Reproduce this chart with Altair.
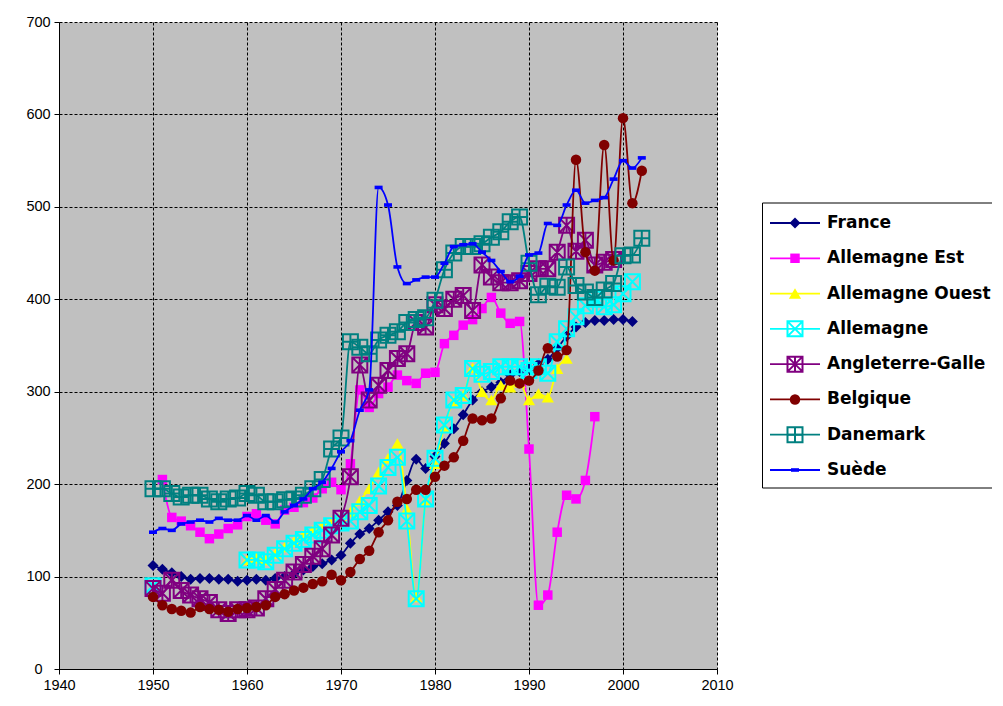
import altair as alt
import pandas as pd

# ---------------- data ----------------
series_names = ["France", "Allemagne Est", "Allemagne Ouest", "Allemagne",
                "Angleterre-Galles", "Belgique", "Danemark", "Suède"]
colors = ["#000080", "#FF00FF", "#FFFF00", "#00FFFF",
          "#800080", "#800000", "#008080", "#0000FF"]

france_years = list(range(1950, 2002))
france = [112, 108, 104, 100, 97, 98, 98, 97, 97, 95, 96, 97, 96, 98, 100,
          103, 107, 111, 114, 118, 123, 136, 146, 152, 161, 170, 177, 204, 227, 217,
          230, 244, 260, 275, 291, 300, 305, 310, 318, 322, 325, 330, 335, 347, 360,
          370, 375, 377, 377, 378, 378, 376]

est_years = list(range(1951, 1998))
est = [205, 164, 160, 155, 148, 141, 146, 152, 156, 165, 168, 161, 157, 172, 175,
       180, 185, 195, 202, 194, 222, 302, 283, 298, 305, 318, 312, 309, 320, 321,
       352, 361, 372, 378, 390, 402, 385, 374, 376, 238, 69, 80, 148, 188, 184,
       204, 273]

ouest_years = list(range(1960, 1995))
ouest = [118, 120, 118, 125, 132, 138, 145, 150, 155, 160, 165, 170, 182, 195, 213,
         228, 244, 173, 78, 183, 222, 262, 290, 296, 326, 300, 291, 307, 305, 310,
         291, 298, 294, 325, 336]

allemagne_years = [1950] + list(range(1960, 2002))
allemagne = [90,
             118, 118, 116, 123, 130, 136, 140, 145, 150, 155, 158, 160, 170, 177, 198,
             218, 229, 160, 76, 184, 228, 264, 291, 296, 325, 319, 322, 327, 327, 327,
             323, 327, 320, 354, 368, 381, 393, 400, 392, 394, 406, 419]

angl_years = list(range(1950, 2000))
angl = [87, 82, 96, 85, 80, 76, 72, 64, 60, 64, 64, 66, 76, 86, 96,
        105, 113, 122, 130, 145, 163, 208, 329, 291, 307, 323, 336, 341, 375, 370,
        394, 390, 400, 404, 388, 437, 424, 418, 418, 420, 428, 433, 433, 451, 480,
        452, 464, 437, 440, 443]

belg_years = list(range(1950, 2003))
belg = [78, 69, 65, 63, 61, 67, 65, 64, 62, 65, 66, 67, 69, 78, 81,
        85, 88, 92, 95, 102, 96, 105, 119, 128, 148, 161, 181, 184, 194, 194,
        208, 220, 229, 247, 271, 269, 271, 293, 312, 309, 312, 323, 347, 338, 345,
        551, 451, 431, 567, 442, 596, 504, 539]

dan_years = list(range(1950, 2003))
dan = [195, 195, 190, 186, 188, 188, 184, 181, 184, 185, 190, 188, 181, 181, 183,
       184, 188, 195, 205, 238, 250, 354, 348, 341, 356, 361, 365, 375, 378, 380,
       399, 432, 450, 457, 457, 460, 467, 473, 484, 489, 439, 405, 414, 413, 435,
       415, 408, 402, 410, 417, 447, 448, 466]

suede_years = list(range(1950, 2003))
suede = [148, 152, 150, 157, 159, 161, 159, 163, 161, 161, 166, 161, 166, 159, 170,
         177, 184, 195, 202, 217, 235, 247, 280, 302, 521, 502, 435, 417, 421, 424,
         424, 439, 457, 459, 460, 451, 442, 430, 419, 425, 448, 450, 482, 480, 502,
         518, 504, 507, 510, 530, 550, 542, 553]

all_years = [france_years, est_years, ouest_years, allemagne_years,
             angl_years, belg_years, dan_years, suede_years]
all_values = [france, est, ouest, allemagne, angl, belg, dan, suede]

rows = []
for name, yrs, vals in zip(series_names, all_years, all_values):
    seg = 0
    prev = None
    for yr, v in zip(yrs, vals):
        if prev is not None and yr - prev > 1:
            seg += 1
        rows.append({"series": name, "year": yr, "value": v, "seg": seg})
        prev = yr
df = pd.DataFrame(rows)

# ---------------- marker styles ----------------
BOX_X = "M-1,-1L1,-1L1,1L-1,1Z M-1,-1L1,1 M1,-1L-1,1"
BOX_AST = "M-1,-1L1,-1L1,1L-1,1Z M-1,-1L1,1 M1,-1L-1,1 M0,-1L0,1"
BOX_PLUS = "M-1,-1L1,-1L1,1L-1,1Z M0,-1L0,1 M-1,0L1,0"
DASH = "M-1,-0.45L1,-0.45L1,0.45L-1,0.45Z"

styles = [
    dict(shape="diamond", size=121, filled=True),
    dict(shape="square", size=90, filled=True),
    dict(shape="triangle-up", size=150, filled=True),
    dict(shape=BOX_X, size=225, filled=False),
    dict(shape=BOX_AST, size=225, filled=False),
    dict(shape="circle", size=110, filled=True),
    dict(shape=BOX_PLUS, size=225, filled=False),
    dict(shape=DASH, size=64, filled=True),
]

FONT = "Liberation Sans"

X = alt.X("year:Q",
          scale=alt.Scale(domain=[1940, 2010], nice=False, zero=False),
          axis=alt.Axis(values=list(range(1940, 2011, 10)), format="d", title=None,
                        grid=True, gridColor="black", gridDash=[3, 2], gridWidth=1,
                        gridOpacity=1,
                        domainColor="black", domainWidth=1, tickColor="black",
                        tickSize=5, labelPadding=4, labelFont=FONT, labelFontSize=14.5,
                        labelColor="black", labelFlush=False, labelOverlap=False))
Y = alt.Y("value:Q",
          scale=alt.Scale(domain=[0, 700], nice=False),
          axis=alt.Axis(values=list(range(0, 701, 100)), title=None,
                        grid=True, gridColor="black", gridDash=[3, 2], gridWidth=1,
                        gridOpacity=1,
                        domainColor="black", domainWidth=1, tickColor="black",
                        tickSize=5, labelPadding=16, labelAlign="center",
                        labelFont=FONT, labelFontSize=14.5, labelColor="black",
                        labelFlush=False, labelOverlap=False))

base = alt.Chart(df)
layers = []
for i, name in enumerate(series_names):
    st = styles[i]
    sub = base.transform_filter(alt.datum.series == name)
    line = sub.mark_line(color=colors[i], strokeWidth=1.8, interpolate="monotone").encode(
        x=X, y=Y, detail="seg:N")
    pts = sub.mark_point(shape=st["shape"], size=st["size"], filled=st["filled"],
                         color=colors[i], strokeWidth=2 if not st["filled"] else 1,
                         opacity=1).encode(x=X, y=Y)
    layers += [line, pts]

main = alt.layer(*layers).properties(
    width=658, height=647,
    view=alt.ViewBackground(fill="#C0C0C0", stroke="transparent"))

# ---------------- legend ----------------
LEG_W = 230
leg_df = pd.DataFrame({"series": series_names, "idx": list(range(len(series_names)))})
LY = alt.Y("idx:Q", scale=alt.Scale(domain=[0, 7], range=[201, 448], nice=False, zero=False),
           axis=None)
lbase = alt.Chart(leg_df)
box_df = pd.DataFrame({"k": [0]})
box = [
    alt.Chart(box_df).mark_rule(color="black", strokeWidth=1).encode(
        x=alt.value(0.5), x2=alt.value(LEG_W), y=alt.value(181)),
    alt.Chart(box_df).mark_rule(color="black", strokeWidth=1).encode(
        x=alt.value(0.5), x2=alt.value(LEG_W), y=alt.value(466)),
    alt.Chart(box_df).mark_rule(color="black", strokeWidth=1).encode(
        x=alt.value(0.5), y=alt.value(181), y2=alt.value(466)),
]
leg_layers = list(box)
for i, name in enumerate(series_names):
    st = styles[i]
    sub = lbase.transform_filter(alt.datum.series == name)
    leg_layers.append(sub.mark_rule(color=colors[i], strokeWidth=1.8).encode(
        x=alt.value(8), x2=alt.value(58), y=LY))
    leg_layers.append(sub.mark_point(shape=st["shape"], size=st["size"], filled=st["filled"],
                                     color=colors[i], strokeWidth=2 if not st["filled"] else 1,
                                     opacity=1).encode(x=alt.value(33), y=LY))
    leg_layers.append(sub.mark_text(align="left", baseline="middle", font="DejaVu Sans",
                                    fontSize=17, fontWeight="bold", color="black",
                                    limit=LEG_W - 64, ellipsis=" ").encode(
        x=alt.value(65), y=LY, text="series:N"))

legend = alt.layer(*leg_layers).properties(
    width=LEG_W, height=647,
    view=alt.ViewBackground(fill="white", stroke="transparent"))

chart = alt.hconcat(main, legend, spacing=27).properties(
    padding={"left": 17, "top": 5, "right": 0, "bottom": 0},
    background="white",
).configure_view(stroke="transparent")

chart.save("out.html", embed_options={"renderer": "svg", "actions": False})
